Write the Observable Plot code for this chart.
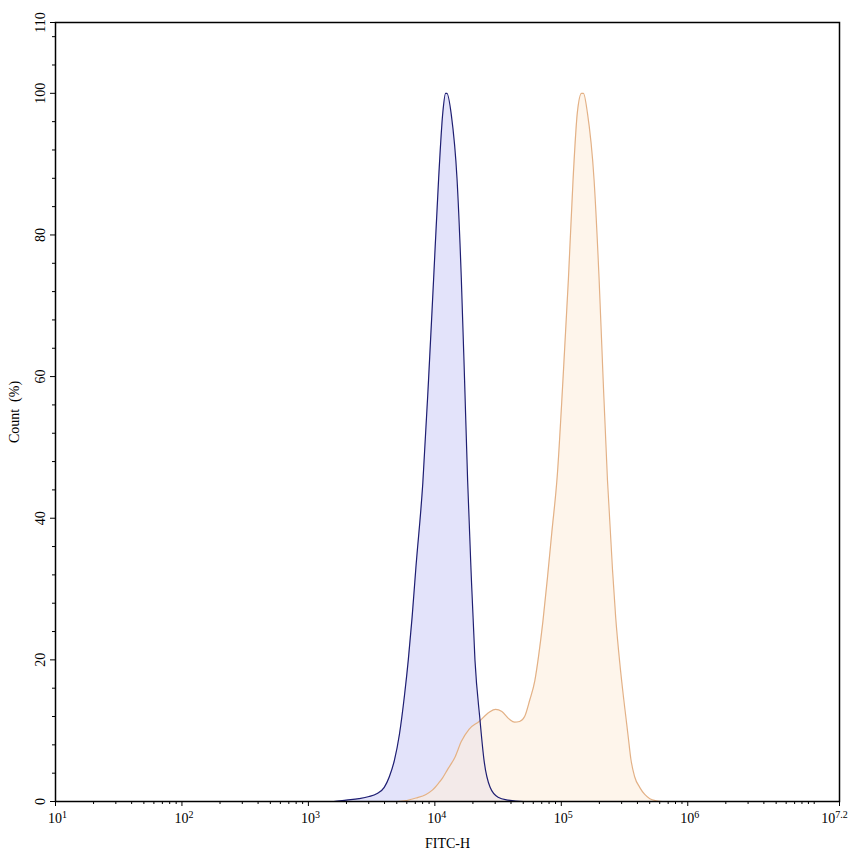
<!DOCTYPE html>
<html><head><meta charset="utf-8">
<script src="https://cdn.jsdelivr.net/npm/d3@7"></script>
<script src="https://cdn.jsdelivr.net/npm/@observablehq/plot@0.6"></script>
<style>
body{margin:0;background:#fff;}
#chart svg{display:block;}
</style>
</head><body><div id="chart"></div>
<script>
// Blue (control) histogram: log10(FITC-H) and Count (%)
const blueExp   = [3.00, 3.20, 3.30, 3.40, 3.48, 3.54, 3.60, 3.64, 3.68, 3.72, 3.76, 3.79, 3.82, 3.85, 3.905, 3.95, 3.99, 4.03, 4.063, 4.085, 4.095, 4.13, 4.175, 4.209, 4.235, 4.259, 4.286, 4.317, 4.357, 4.389, 4.437, 4.50, 4.58, 4.70, 4.80];
const blueCount = [0,    0,    0.2,  0.4,  0.7,  1.1,  2,    3.5,  5.8,  9.5,  15,   20,   26,   33,   45,    59.5, 73.7, 88,   97.3,  100,   100,   97,   88,    74,    59.5,  45.4,  32.7,  20,    11.5,  5.8,   2,     0.6,  0.2,  0,    0];
// Orange (stained) histogram
const orangeExp   = [3.60, 3.70, 3.76, 3.85, 3.93, 3.98, 4.03, 4.06, 4.10, 4.16, 4.21, 4.27, 4.35, 4.43, 4.48, 4.53, 4.59, 4.63, 4.67, 4.71, 4.75, 4.79, 4.82, 4.855, 4.89, 4.925, 4.968, 5.013, 5.056, 5.093, 5.127, 5.16, 5.175, 5.206, 5.259, 5.299, 5.331, 5.365, 5.405, 5.43, 5.46, 5.49, 5.51, 5.53, 5.55, 5.58, 5.62, 5.66, 5.70, 5.75, 5.80, 5.90];
const orangeCount = [0,    0,    0.1,  0.5,  1,    1.6,  2.6,  3.3,  4.5,  6.3,  8.5,  10.2, 11.3, 12.6, 13.0, 12.7, 11.6, 11.2, 11.3, 12,   14.3, 17,   20.5, 25.5,  31.5, 38,    46,    59.5,  73.7,  87.8,  97.3,  100,  100,   97.3,  87.8,  73.7,  59.5,  45.4,  32.7,  26,   20,   15,   12,   9,    6,    3.5,  2,    1,    0.4,  0.1,  0,    0];

// Axis ticks
const xMajorExp = [1, 2, 3, 4, 5, 6, 7.2];
const xMajorLabels = ["10^1", "10^2", "10^3", "10^4", "10^5", "10^6", "10^7.2"];
const xMinorMult = [2, 3, 4, 5, 6, 7, 8, 9];
const xMinorDecades = [1, 2, 3, 4, 5, 6];
const yMajor = [0, 20, 40, 60, 80, 100, 110];
const yMinor = [4, 8, 12, 16, 24, 28, 32, 36, 44, 48, 52, 56, 64, 68, 72, 76, 84, 88, 92, 96, 104, 108];

const blue = blueExp.map((e, i) => ({x: Math.pow(10, e), y: blueCount[i]}));
const orange = orangeExp.map((e, i) => ({x: Math.pow(10, e), y: orangeCount[i]}));
const xMajor = xMajorExp.map(e => Math.pow(10, e));
const xMinor = [];
for (const d of xMinorDecades) for (const m of xMinorMult) xMinor.push(m * Math.pow(10, d));
xMinor.push(Math.pow(10, 7));
const xLab = xMajor.map((v, i) => ({x: v, t: xMajorLabels[i]}));
const xLabMain = xLab.slice(0, -1);
const xLabLast = xLab.slice(-1);

const font = "'Liberation Serif', 'Times New Roman', serif";

const svg = Plot.plot({
  width: 853,
  height: 856,
  marginLeft: 55,
  marginRight: 14,
  marginTop: 22,
  marginBottom: 55,
  style: {fontFamily: font, fontSize: "14px", background: "#fff", color: "#000"},
  x: {type: "log", domain: [10, Math.pow(10, 7.2)], axis: null},
  y: {domain: [0, 110], axis: null},
  marks: [
    Plot.areaY(blue, {x: "x", y: "y", fill: "#e2e2fa", fillOpacity: 0.95, curve: "monotone-x"}),
    Plot.areaY(orange, {x: "x", y: "y", fill: "#fdeedd", fillOpacity: 0.6, curve: "monotone-x"}),
    Plot.lineY(orange, {x: "x", y: "y", stroke: "#e3b186", strokeWidth: 1.2, curve: "monotone-x"}),
    Plot.lineY(blue, {x: "x", y: "y", stroke: "#1e1e72", strokeWidth: 1.2, curve: "monotone-x"}),
    Plot.axisX({ticks: xMinor, tickSize: 3, tickFormat: () => "", label: null, stroke: "#000"}),
    Plot.axisX({ticks: xMajor, tickSize: 5, tickFormat: () => "", label: null, stroke: "#000"}),
    Plot.axisY({ticks: yMinor, tickSize: 3, tickFormat: () => "", label: null, stroke: "#000"}),
    Plot.axisY({ticks: yMajor, tickSize: 5, tickFormat: () => "", label: null, stroke: "#000"}),
    Plot.text(xLabMain, {x: "x", text: "t", frameAnchor: "bottom", dy: 17, dx: 2, textAnchor: "middle", lineAnchor: "middle", fontSize: 14, fill: "#000"}),
    Plot.text(xLabLast, {x: "x", text: "t", frameAnchor: "bottom", dy: 17, dx: -5, textAnchor: "middle", lineAnchor: "middle", fontSize: 14, fill: "#000"}),
    Plot.text(yMajor, {y: d => d, text: d => String(d), frameAnchor: "left", dx: -15, rotate: -90, textAnchor: "middle", lineAnchor: "middle", fontSize: 14, fill: "#000"}),
    Plot.text(["FITC-H"], {frameAnchor: "bottom", dy: 42, textAnchor: "middle", lineAnchor: "middle", fontSize: 14, fill: "#000"}),
    Plot.text(["Count  (%)"], {frameAnchor: "left", dx: -41, rotate: -90, textAnchor: "middle", lineAnchor: "middle", fontSize: 14, fill: "#000"}),
    Plot.frame({stroke: "#000", strokeWidth: 1.5})
  ]
});

d3.select(svg).selectAll("text").each(function() {
  const t = this.textContent;
  if (!t || t.indexOf("^") < 0) return;
  const parts = t.split("^");
  const sel = d3.select(this);
  sel.selectAll("*").remove();
  sel.text(null);
  sel.append("tspan").text(parts[0]);
  sel.append("tspan").attr("dy", "-0.45em").attr("font-size", "10px").text(parts[1]);
});

document.getElementById("chart").appendChild(svg);
</script>
</body></html>
